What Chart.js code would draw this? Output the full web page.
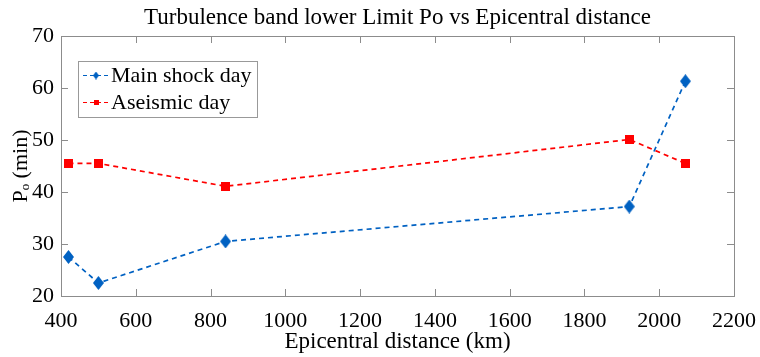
<!DOCTYPE html>
<html>
<head>
<meta charset="utf-8">
<script src="https://cdn.jsdelivr.net/npm/chart.js@4.4.1/dist/chart.umd.min.js"></script>
<style>
  html, body { margin: 0; padding: 0; background: #fff; }
  #wrap { width: 760px; height: 357px; }
</style>
</head>
<body>
<div id="wrap"><canvas id="c" width="760" height="357"></canvas></div>
<script>
// ---- data ----
const distances = [420, 500, 840, 1920, 2070];
const mainShockPo = [27.5, 22.5, 30.5, 37.2, 61.3];
const aseismicPo = [45.5, 45.5, 41.1, 50.1, 45.5];
const seriesNames = ['Main shock day', 'Aseismic day'];
const xTicks = [400, 600, 800, 1000, 1200, 1400, 1600, 1800, 2000, 2200];
const yTicks = [20, 30, 40, 50, 60, 70];
const titleText = 'Turbulence band lower Limit Po vs Epicentral distance';
const xTitle = 'Epicentral distance (km)';
const yTitle = 'P\u2092 (min)';

const BLUE = '#0061c2';
const RED = '#ff0000';
const AXIS = '#8c8c8c';
const FAMILY = 'Liberation Serif';
const FONT = '"Liberation Serif", serif';

function diamond(w, h, color) {
  const c = document.createElement('canvas');
  c.width = w; c.height = h;
  const g = c.getContext('2d');
  g.fillStyle = color;
  g.beginPath();
  g.moveTo(w / 2, 0); g.lineTo(w, h / 2); g.lineTo(w / 2, h); g.lineTo(0, h / 2);
  g.closePath(); g.fill();
  return c;
}
function square(s, color) {
  const c = document.createElement('canvas');
  c.width = s; c.height = s;
  const g = c.getContext('2d');
  g.fillStyle = color; g.fillRect(0, 0, s, s);
  return c;
}

function build() {
  const blueMark = diamond(11, 14, BLUE);
  const redMark = square(9, RED);
  const blueMarkSmall = diamond(6, 8, BLUE);
  const redMarkSmall = square(5, RED);
  const toXY = ys => distances.map((x, i) => ({ x, y: ys[i] }));

  Chart.defaults.font.family = FONT;
  Chart.defaults.color = '#000';

  const boxPlugin = {
    id: 'box',
    afterDatasetsDraw(chart) {
      const { ctx, chartArea: a, scales } = chart;
      ctx.save();
      ctx.strokeStyle = AXIS;
      ctx.lineWidth = 1;
      ctx.strokeRect(Math.round(a.left) + 0.5, Math.round(a.top) + 0.5,
        Math.round(a.right - a.left), Math.round(a.bottom - a.top));
      const L = 7;
      ctx.beginPath();
      xTicks.forEach(v => {
        const px = Math.round(scales.x.getPixelForValue(v)) + 0.5;
        ctx.moveTo(px, a.bottom); ctx.lineTo(px, a.bottom - L);
        ctx.moveTo(px, a.top); ctx.lineTo(px, a.top + L);
      });
      yTicks.forEach(v => {
        const py = Math.round(scales.y.getPixelForValue(v)) + 0.5;
        ctx.moveTo(a.left, py); ctx.lineTo(a.left + L, py);
        ctx.moveTo(a.right, py); ctx.lineTo(a.right - L, py);
      });
      ctx.stroke();
      ctx.restore();
    }
  };

  const legendPlugin = {
    id: 'legendBox',
    afterDraw(chart) {
      const { ctx, chartArea: a } = chart;
      const x0 = a.left + 17, y0 = a.top + 25, w = 179, h = 56;
      ctx.save();
      ctx.fillStyle = '#fff';
      ctx.fillRect(x0, y0, w, h);
      ctx.strokeStyle = '#999';
      ctx.lineWidth = 1;
      ctx.strokeRect(x0 + 0.5, y0 + 0.5, w, h);
      const rows = [
        { color: BLUE, mark: blueMarkSmall, y: y0 + 14 },
        { color: RED, mark: redMarkSmall, y: y0 + 41 }
      ];
      ctx.font = '22px ' + FONT;
      ctx.textBaseline = 'middle';
      rows.forEach((r, i) => {
        ctx.strokeStyle = r.color;
        ctx.lineWidth = 1;
        ctx.setLineDash([4, 3]);
        ctx.beginPath();
        ctx.moveTo(x0 + 5, r.y + 0.5); ctx.lineTo(x0 + 31, r.y + 0.5);
        ctx.stroke();
        ctx.setLineDash([]);
        ctx.drawImage(r.mark, x0 + 18 - r.mark.width / 2, r.y - r.mark.height / 2 + 0.5);
        ctx.fillStyle = '#000';
        ctx.fillText(chart.data.datasets[i].label, x0 + 33, r.y + 1);
      });
      ctx.restore();
    }
  };

  new Chart(document.getElementById('c'), {
    type: 'line',
    data: {
      datasets: [
        {
          label: seriesNames[0],
          data: toXY(mainShockPo),
          borderColor: BLUE,
          backgroundColor: BLUE,
          borderWidth: 1.7,
          borderDash: [5, 4],
          pointStyle: blueMark,
          tension: 0
        },
        {
          label: seriesNames[1],
          data: toXY(aseismicPo),
          borderColor: RED,
          backgroundColor: RED,
          borderWidth: 1.7,
          borderDash: [5, 4],
          pointStyle: redMark,
          tension: 0
        }
      ]
    },
    options: {
      responsive: false,
      animation: false,
      layout: { padding: { left: 0, right: 26, top: 0, bottom: 0 } },
      plugins: {
        legend: { display: false },
        tooltip: { enabled: false },
        title: {
          display: true,
          fullSize: false,
          text: titleText,
          color: '#000',
          font: { family: FONT, size: 23, weight: 'normal' },
          padding: { top: 4.5, bottom: 3.9 }
        }
      },
      scales: {
        x: {
          type: 'linear',
          min: 400, max: 2200,
          afterBuildTicks: s => { s.ticks = xTicks.map(v => ({ value: v })); },
          afterFit: s => { s.height = 61; s.paddingLeft = 0; s.paddingRight = 0; },
          grid: { display: false, drawTicks: false },
          border: { display: false },
          ticks: {
            color: '#000', padding: 12,
            font: { family: FONT, size: 22 },
            maxRotation: 0, autoSkip: false,
            callback: v => String(v)
          },
          title: {
            display: true, text: xTitle, color: '#000',
            font: { family: FONT, size: 23 },
            padding: { top: 2, bottom: 1 }
          }
        },
        y: {
          min: 20, max: 70,
          afterBuildTicks: s => { s.ticks = yTicks.map(v => ({ value: v })); },
          afterFit: s => { s.width = 61; s.paddingTop = 0; s.paddingBottom = 0; },
          grid: { display: false, drawTicks: false },
          border: { display: false },
          ticks: {
            color: '#000', padding: 7,
            font: { family: FONT, size: 22 },
            callback: v => String(v)
          },
          title: {
            display: true, text: yTitle, color: '#000',
            font: { family: FONT, size: 22 },
            padding: { top: 8, bottom: 0 }
          }
        }
      }
    },
    plugins: [boxPlugin, legendPlugin]
  });
}

const loads = [21, 22, 23].map(s => document.fonts.load(s + 'px "' + FAMILY + '"'));
Promise.all(loads).then(build, build);
</script>
</body>
</html>
